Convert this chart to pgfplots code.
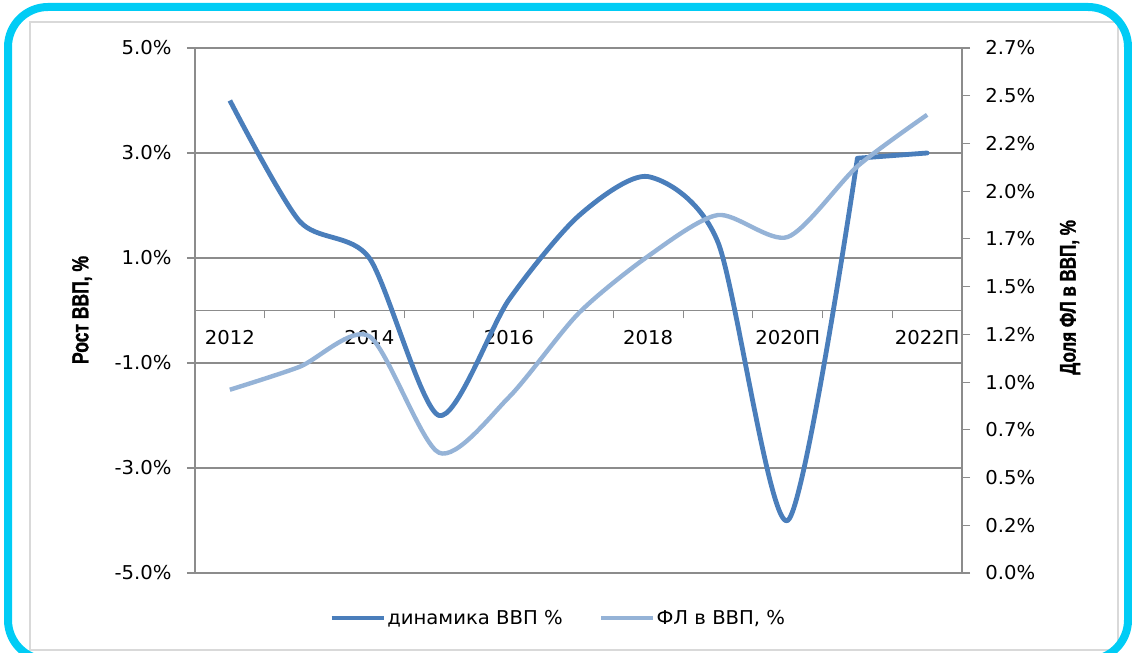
\documentclass[border=0pt]{standalone}
\usepackage{fontspec}
\setmainfont{DejaVu Sans}[FakeStretch=1.03]
\newfontfamily\titlefont{Liberation Sans}[FakeStretch=0.75, BoldFeatures={FakeBold=1.2}]
\usepackage{pgfplots}
\pgfplotsset{compat=1.18}

\definecolor{gdp}{HTML}{4A7EBB}
\definecolor{fl}{HTML}{95B3D7}
\definecolor{gridc}{HTML}{8C8C8C}
\definecolor{framec}{HTML}{00CCF5}

% values
\pgfplotstableread{
x gdp
0 4.0
1 1.7
2 1.0
3 -2.0
4 0.2
5 1.8
6 2.55
7 1.3
8 -4.0
9 2.9
}\gdpdata
\pgfplotstableread{
x gdp
9 2.9
10 3.0
}\gdptail
\pgfplotstableread{
x fl
0 0.96
1 1.08
2 1.24
3 0.63
4 0.92
5 1.36
6 1.66
7 1.875
8 1.76
9 2.13
10 2.40
}\fldata

\begin{document}
\begin{tikzpicture}[font=\fontsize{14.3}{16}\selectfont]
\path[use as bounding box] (0,0) rectangle (849pt,489.75pt);
\begin{scope}
  \clip (0,0) rectangle (849pt,489.75pt);
  \draw[gray!30, line width=0.8pt] (22.5pt,2.25pt) rectangle (838.5pt,473.25pt);
  \draw[framec, line width=6pt, rounded corners=30pt] (6pt,-5.25pt) rectangle (846pt,484.5pt);
\end{scope}

% left axis: GDP growth
\begin{axis}[
  at={(146.25pt,60pt)}, anchor=south west,
  scale only axis, width=575.25pt, height=393.75pt,
  xmin=-0.5, xmax=10.5, ymin=-5, ymax=5,
  axis y line*=left, axis x line*=middle,
  axis line style={gridc, line width=0.8pt, -},
  xtick={-0.5,0.5,...,10.5},
  xticklabels={},
  extra x ticks={0,2,4,6,8,10},
  extra x tick labels={2012,2014,2016,2018,2020П,2022П},
  extra x tick style={major tick length=0pt, grid=none,
    xticklabel style={anchor=center, yshift=-20.25pt}},
  ytick={-5,-3,-1,1,3,5},
  yticklabels={-5.0\%,-3.0\%,-1.0\%,1.0\%,3.0\%,5.0\%},
  major tick length=6pt,
  tick align=outside,
  tick style={gridc, line width=0.8pt},
  yticklabel style={anchor=east, xshift=-8pt},
  ymajorgrids,
  major grid style={gridc, line width=0.8pt},
  every axis y label/.style={at={(axis description cs:-0.1473,0.501)}, rotate=90, anchor=center},
  ylabel={\titlefont\bfseries\fontsize{17.5}{19}\selectfont Рост ВВП, \%},
  clip=false,
]
\addplot[gdp, line width=3.6pt, smooth, tension=0.45, line join=round] table[x=x, y=gdp] {\gdpdata};
\addplot[gdp, line width=3.6pt, line cap=round] table[x=x, y=gdp] {\gdptail};
\end{axis}

% right axis: share of individuals
\begin{axis}[
  at={(146.25pt,60pt)}, anchor=south west,
  scale only axis, width=575.25pt, height=393.75pt,
  xmin=-0.5, xmax=10.5, ymin=0, ymax=2.75,
  axis y line*=right, axis x line=none,
  axis line style={gridc, line width=0.8pt, -},
  ytick={0,0.25,0.5,0.75,1,1.25,1.5,1.75,2,2.25,2.5,2.75},
  yticklabels={0.0\%,0.2\%,0.5\%,0.7\%,1.0\%,1.2\%,1.5\%,1.7\%,2.0\%,2.2\%,2.5\%,2.7\%},
  major tick length=6pt,
  tick align=outside,
  tick style={gridc, line width=0.8pt},
  yticklabel style={anchor=west, xshift=8pt},
  every axis y label/.style={at={(axis description cs:1.1408,0.5248)}, rotate=90, anchor=center},
  ylabel={\titlefont\bfseries\fontsize{17}{19}\selectfont Доля ФЛ в ВВП, \%},
  legend style={draw=none, fill=none, at={(axis description cs:0.473,-0.0857)}, anchor=center,
    legend columns=2, /tikz/every even column/.append style={column sep=26pt},
    inner sep=0pt, nodes={inner sep=1pt}},
  legend image code/.code={\draw[#1] (0pt,0pt) -- (39pt,0pt);},
  clip=false,
]
\addlegendimage{gdp, line width=3.6pt}
\addlegendentry{динамика ВВП \%}
\addplot[fl, line width=3.3pt, smooth, tension=0.45] table[x=x, y=fl] {\fldata};
\addlegendentry{ФЛ в ВВП, \%}
\end{axis}
\end{tikzpicture}
\end{document}
